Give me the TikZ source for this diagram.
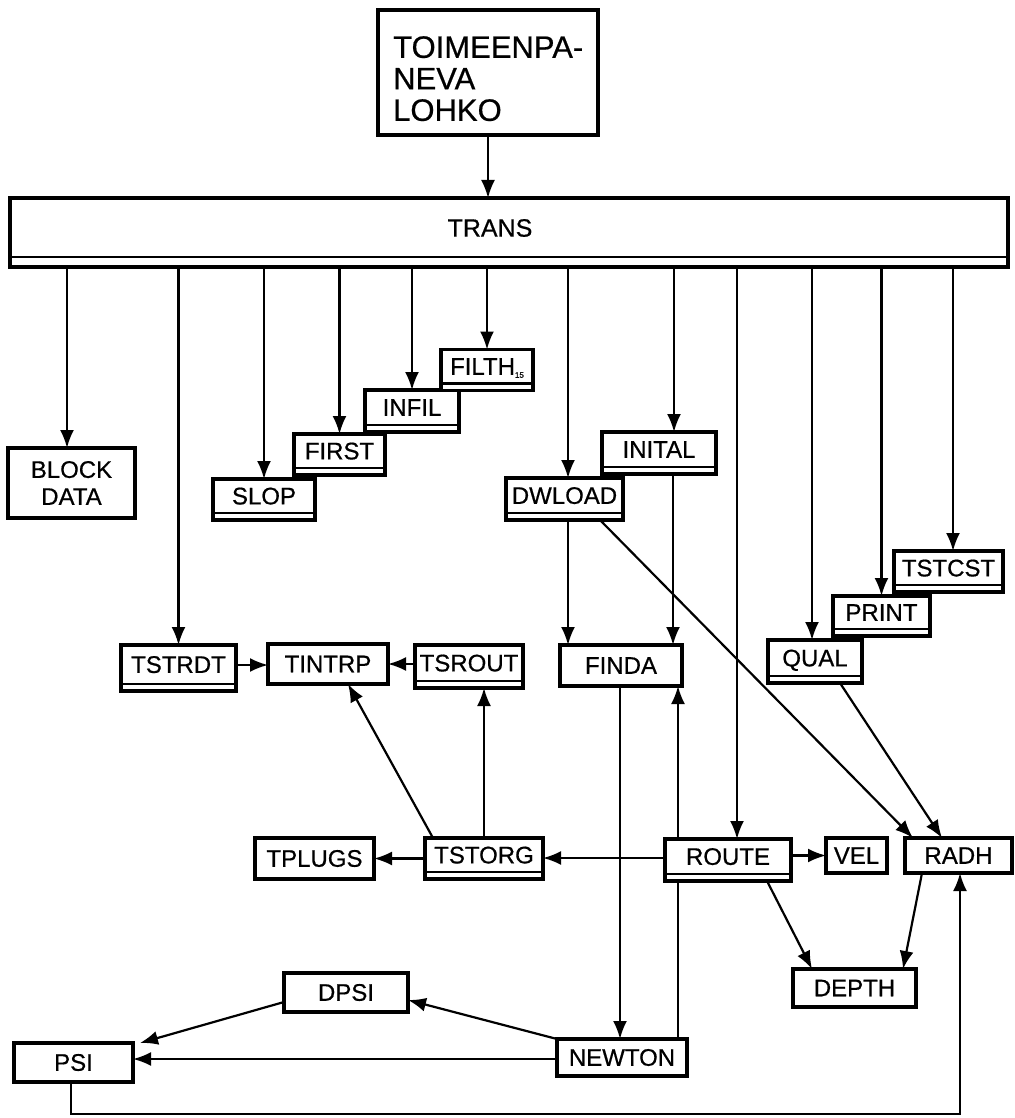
\documentclass[tikz,border=0pt]{standalone}
\usepackage{fontspec}
\setmainfont{Liberation Sans}[FakeBold=0.6]
\usetikzlibrary{arrows.meta,backgrounds}
\begin{document}
\begin{tikzpicture}[x=1pt,y=-1pt,
  box/.style={draw, line width=3.2pt, fill=white, inner sep=0pt, outer sep=0pt,
    font=\fontsize{24}{27}\selectfont, align=center},
  dbl/.style={box, text depth=7pt},
  arr/.style={line width=2.2pt, -{Latex[length=18pt,width=14pt]}},
  sep/.style={line width=2.4pt}]
\useasboundingbox (0,0) rectangle (1014,1118);

% nodes
\node[box, minimum width=220pt, minimum height=125pt] (lohko) at (488,72.5) {};
\node[anchor=north west, inner sep=0pt, align=left, font=\fontsize{31}{31.5}\selectfont] (lohkotext) at (393,36) {TOIMEENPA-\\NEVA\\LOHKO};
\node[box, minimum width=998pt, minimum height=69pt] (trans) at (509,232.5) {};
\node[inner sep=0pt, font=\fontsize{25}{30}\selectfont] (transtext) at (490,228) {TRANS};

\node[box, minimum width=127pt, minimum height=70pt] (blockdata) at (71.5,483) {BLOCK\\DATA};
\node[dbl, minimum width=102pt, minimum height=41pt] (slop) at (264,499.5) {SLOP};
\node[dbl, minimum width=91pt, minimum height=41pt] (first) at (339.5,454.5) {FIRST};
\node[dbl, minimum width=94pt, minimum height=42pt] (infil) at (412,411) {INFIL};
\node[dbl, minimum width=92pt, minimum height=41pt] (filth) at (487,370) {FILTH\raisebox{-3pt}{\fontsize{8}{8}\selectfont 15}};
\node[dbl, minimum width=117pt, minimum height=42pt] (dwload) at (564.5,499) {DWLOAD};
\node[dbl, minimum width=114pt, minimum height=42pt] (inital) at (659,453) {INITAL};
\node[dbl, minimum width=109pt, minimum height=41pt] (tstcst) at (948.5,571.5) {TSTCST};
\node[dbl, minimum width=97pt, minimum height=40pt] (print) at (881.5,616) {PRINT};
\node[dbl, minimum width=94pt, minimum height=43pt] (qual) at (815,661.5) {QUAL};
\node[dbl, minimum width=115pt, minimum height=46pt] (tstrdt) at (178.5,668) {TSTRDT};
\node[box, minimum width=120pt, minimum height=40pt] (tintrp) at (328,664) {TINTRP};
\node[dbl, minimum width=108pt, minimum height=43pt] (tsrout) at (469,666.5) {TSROUT};
\node[box, minimum width=122pt, minimum height=41pt] (finda) at (621,665.5) {FINDA};
\node[box, minimum width=119pt, minimum height=41pt] (tplugs) at (314.5,858.5) {TPLUGS};
\node[dbl, minimum width=118pt, minimum height=41pt] (tstorg) at (484,858.5) {TSTORG};
\node[dbl, minimum width=126pt, minimum height=42pt] (route) at (728,860) {ROUTE};
\node[box, minimum width=61pt, minimum height=35pt] (vel) at (856.5,855.5) {VEL};
\node[box, minimum width=107pt, minimum height=35pt] (radh) at (958.5,855.5) {RADH};
\node[box, minimum width=123pt, minimum height=38pt] (depth) at (854.5,988) {DEPTH};
\node[box, minimum width=124pt, minimum height=39pt] (dpsi) at (346,992.5) {DPSI};
\node[box, minimum width=119pt, minimum height=39pt] (psi) at (73.5,1062.5) {PSI};
\node[box, minimum width=130pt, minimum height=37pt] (newton) at (622,1057.5) {NEWTON};

% double bottoms
\draw[sep] ([yshift=10pt]trans.south west) -- ([yshift=10pt]trans.south east);
\foreach \n in {slop,first,infil,filth,dwload,inital,tstcst,print,qual,tstrdt,tsrout,tstorg,route}
  \draw[sep] ([yshift=7pt]\n.south west) -- ([yshift=7pt]\n.south east);

% connectors
\begin{scope}[on background layer]
\draw[arr] (lohko.south) -- (lohko.south |- trans.north);
\foreach \n/\dx in {blockdata/-4.5, tstrdt/0, slop/0, first/0, infil/0, filth/0, dwload/3.5, inital/15, route/9, qual/-3, print/0, tstcst/4.5}
  \draw[arr] ([xshift=\dx pt]\n.north |- trans.south) -- ([xshift=\dx pt]\n.north);
\draw[arr] ([xshift=3.5pt]dwload.south) -- ([xshift=3.5pt]dwload.south |- finda.north);
\draw[arr] ([xshift=14pt]inital.south) -- ([xshift=14pt]inital.south |- finda.north);
\draw[arr] ([xshift=35.5pt]dwload.south) -- ([xshift=-45.5pt]radh.north);
\draw[arr] ([xshift=25pt]qual.south) -- ([xshift=-16.5pt]radh.north);
\draw[arr] ([yshift=3pt]tstrdt.east) -- ([yshift=3pt]tstrdt.east -| tintrp.west);
\draw[arr] (tintrp.east -| tsrout.west) -- (tintrp.east);
\draw[arr] ([xshift=-51pt]tstorg.north) -- ([xshift=20pt]tintrp.south);
\draw[arr] (tstorg.north) -- (tstorg.north |- tsrout.south);
\draw[arr] (tplugs.east -| tstorg.west) -- (tplugs.east);
\draw[arr] ([yshift=2pt]route.west) -- ([yshift=2pt]route.west -| tstorg.east);
\draw[arr] (vel.west -| route.east) -- (vel.west);
\draw[arr] ([xshift=39pt]route.south) -- ([xshift=-42.5pt]depth.north);
\draw[arr] ([xshift=-36.5pt]radh.south) -- ([xshift=48.5pt]depth.north);
\draw[arr] ([xshift=-1pt]finda.south) -- ([xshift=-1pt]finda.south |- newton.north);
\draw[arr] ([xshift=56pt]newton.north) -- ([xshift=56pt]newton.north |- finda.south);
\draw[arr] (newton.north west) -- ([yshift=-7.5pt]dpsi.east);
\draw[arr] ([yshift=-9.5pt]dpsi.west) -- ([xshift=66.5pt]psi.north);
\draw[arr] ([yshift=-1.5pt]newton.west) -- ([yshift=-1.5pt]newton.west -| psi.east);
\draw[arr] ([xshift=-2.5pt]psi.south) -- ++(0,32) -| ([xshift=1.5pt]radh.south);
\end{scope}
\end{tikzpicture}
\end{document}
